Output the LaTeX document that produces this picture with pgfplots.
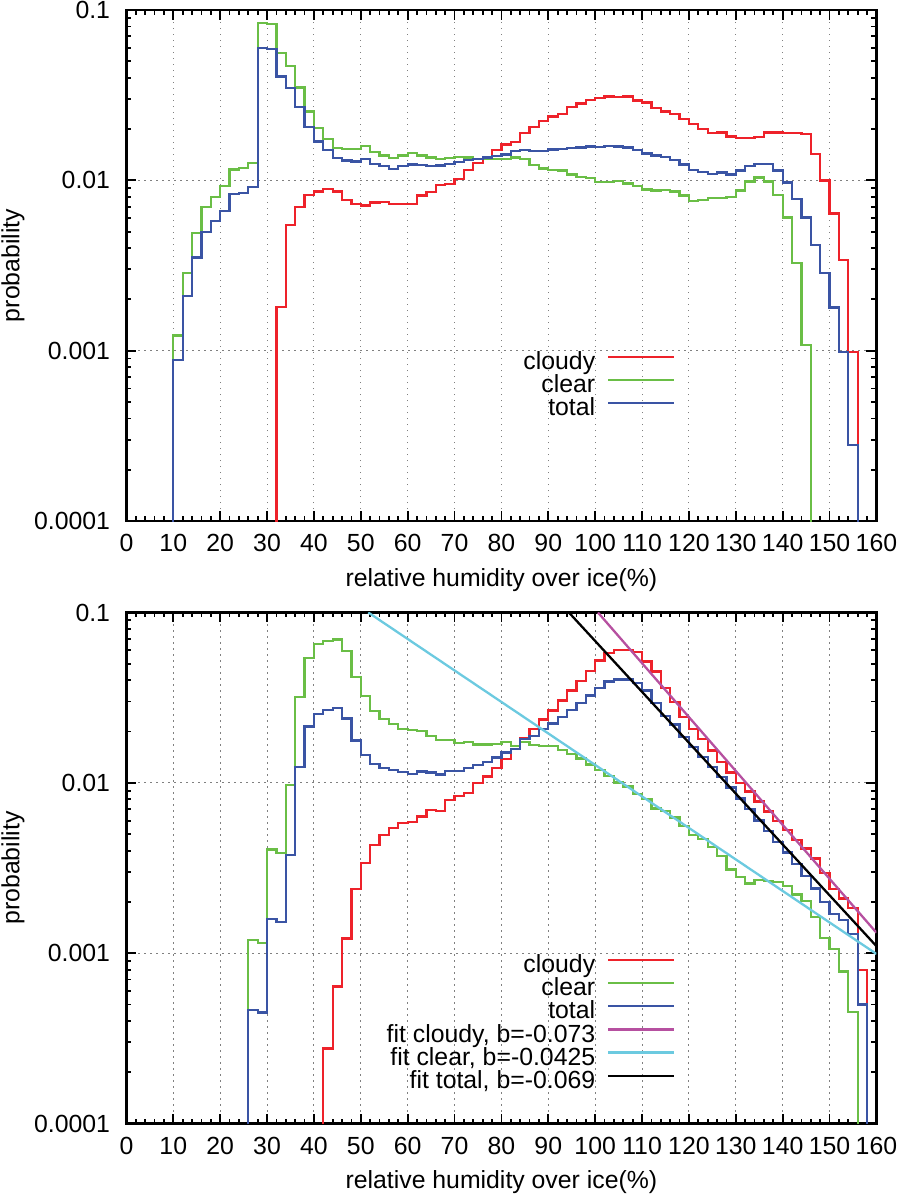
\documentclass[border=0pt]{standalone}
\usepackage{fontspec}
\setmainfont{Liberation Sans}
\usepackage{pgfplots}
\usepackage{pgfplotstable}
\pgfplotsset{compat=1.18}

\definecolor{cred}{RGB}{238,34,42}
\definecolor{cgreen}{RGB}{106,190,70}
\definecolor{cblue}{RGB}{58,84,164}
\definecolor{cmag}{RGB}{182,80,160}
\definecolor{ccyan}{RGB}{108,202,224}

% ---------------- top panel data ----------------
\pgfplotstableread{
x y
32 1e-5
32 0.0018
34 0.00545
36 0.00697
38 0.00817
40 0.00861
42 0.00889
44 0.00859
46 0.00764
48 0.00723
50 0.00713
52 0.0074
54 0.00746
56 0.00727
58 0.00723
60 0.00723
62 0.00815
64 0.00851
66 0.00935
68 0.00948
70 0.0102
72 0.01145
74 0.01264
76 0.01371
78 0.0150
80 0.0162
82 0.0168
84 0.0190
86 0.0206
88 0.0222
90 0.0237
92 0.0246
94 0.0269
96 0.0282
98 0.0297
100 0.0305
102 0.0311
104 0.0309
106 0.0311
108 0.0294
110 0.0286
112 0.0267
114 0.0254
116 0.0244
118 0.0229
120 0.0215
122 0.0201
124 0.0190
126 0.0191
128 0.0181
130 0.0177
132 0.0178
134 0.0180
136 0.0191
138 0.0191
140 0.0190
142 0.0189
144 0.0187
146 0.0143
148 0.00996
150 0.00638
152 0.0034
154 0.00098
156 1e-5
}\topred

\pgfplotstableread{
x y
10 1e-5
10 0.00123
12 0.00286
14 0.00493
16 0.00695
18 0.00798
20 0.00926
22 0.0116
24 0.0118
26 0.0127
28 0.0837
30 0.083
32 0.0561
34 0.0467
36 0.0351
38 0.0254
40 0.0203
42 0.0175
44 0.0155
46 0.0153
48 0.0153
50 0.0159
52 0.0146
54 0.0140
56 0.0135
58 0.0140
60 0.0145
62 0.0140
64 0.0136
66 0.0133
68 0.0135
70 0.0137
72 0.0136
74 0.0133
76 0.0133
78 0.0134
80 0.0133
82 0.0136
84 0.0133
86 0.01235
88 0.01175
90 0.01155
92 0.0114
94 0.0108
96 0.01045
98 0.0103
100 0.00977
102 0.0098
104 0.0099
106 0.00957
108 0.00923
110 0.00882
112 0.0087
114 0.0088
116 0.0086
118 0.00816
120 0.00757
122 0.0077
124 0.00784
126 0.00784
128 0.00798
130 0.00873
132 0.00986
134 0.01037
136 0.00986
138 0.00824
140 0.00604
142 0.00327
144 0.00108
146 1e-5
}\topgreen

\pgfplotstableread{
x y
10 1e-5
10 0.00088
12 0.0021
14 0.00353
16 0.00498
18 0.00575
20 0.00661
22 0.00835
24 0.0084
26 0.00914
28 0.0600
30 0.0591
32 0.0407
34 0.0348
36 0.0269
38 0.0206
40 0.0169
42 0.0150
44 0.0135
46 0.0131
48 0.0129
50 0.0134
52 0.0125
54 0.0121
56 0.0117
58 0.0121
60 0.0124
62 0.0123
64 0.0121
66 0.0122
68 0.0125
70 0.0128
72 0.0132
74 0.0133
76 0.0136
78 0.0139
80 0.0142
82 0.0149
84 0.0150
86 0.0149
88 0.0149
90 0.0152
92 0.0153
94 0.0155
96 0.0156
98 0.0158
100 0.0157
102 0.0159
104 0.0158
106 0.0156
108 0.0150
110 0.0144
112 0.0140
114 0.0137
116 0.0132
118 0.0124
120 0.01145
122 0.0112
124 0.0109
126 0.0111
128 0.0108
130 0.0114
132 0.0121
134 0.0125
136 0.0125
138 0.0114
140 0.00973
142 0.00774
144 0.00604
146 0.00416
148 0.00285
150 0.00179
152 0.00098
154 0.00028
156 1e-5
}\topblue

% ---------------- bottom panel data ----------------
\pgfplotstableread{
x y
42 1e-5
42 0.000276
44 0.000637
46 0.00122
48 0.00237
50 0.00337
52 0.00432
54 0.00492
56 0.00541
58 0.00579
60 0.0059
62 0.00634
64 0.00693
66 0.00685
68 0.00791
70 0.00838
72 0.00869
74 0.00996
76 0.0109
78 0.0122
80 0.0138
82 0.0158
84 0.0183
86 0.0207
88 0.0235
90 0.0266
92 0.0304
94 0.0348
96 0.0396
98 0.0453
100 0.0523
102 0.0581
104 0.0605
106 0.0603
108 0.0586
110 0.0515
112 0.0451
114 0.0360
116 0.0298
118 0.0243
120 0.0207
122 0.0181
124 0.0155
126 0.0132
128 0.0115
130 0.00995
132 0.0089
134 0.00777
136 0.00678
138 0.00597
140 0.00528
142 0.00461
144 0.00412
146 0.0036
148 0.00296
150 0.00239
152 0.00209
154 0.00185
156 0.0008
158 1e-5
}\botred

\pgfplotstableread{
x y
26 1e-5
26 0.0012
28 0.00115
30 0.00406
32 0.00389
34 0.00969
36 0.0319
38 0.0541
40 0.0651
42 0.0681
44 0.0693
46 0.0594
48 0.0418
50 0.0323
52 0.0264
54 0.0237
56 0.0221
58 0.0207
60 0.0204
62 0.0202
64 0.0188
66 0.0179
68 0.0179
70 0.0171
72 0.0173
74 0.0168
76 0.0168
78 0.0169
80 0.0173
82 0.0164
84 0.0173
86 0.0167
88 0.0165
90 0.0164
92 0.0156
94 0.0148
96 0.0139
98 0.0128
100 0.0119
102 0.0110
104 0.01004
106 0.0095
108 0.00857
110 0.0080
112 0.00706
114 0.00681
116 0.00625
118 0.00558
120 0.00492
122 0.00466
124 0.00421
126 0.00371
128 0.0031
130 0.00281
132 0.00256
134 0.00268
136 0.00265
138 0.00261
140 0.00247
142 0.00221
144 0.00202
146 0.00163
148 0.00123
150 0.00106
152 0.00078
154 0.00045
156 1e-5
}\botgreen

\pgfplotstableread{
x y
26 1e-5
26 0.000463
28 0.000448
30 0.00159
32 0.00152
34 0.00378
36 0.0124
38 0.0214
40 0.0254
42 0.0268
44 0.0275
46 0.0239
48 0.0177
50 0.0146
52 0.0129
54 0.0122
56 0.0119
58 0.0116
60 0.0113
62 0.01167
64 0.0115
66 0.0112
68 0.01178
70 0.0117
72 0.0122
74 0.0127
76 0.0132
78 0.0141
80 0.0151
82 0.0158
84 0.0181
86 0.0189
88 0.0207
90 0.0223
92 0.0243
94 0.0268
96 0.0295
98 0.0326
100 0.0360
102 0.0393
104 0.0404
106 0.0404
108 0.0385
110 0.0348
112 0.0295
114 0.0246
116 0.0220
118 0.0185
120 0.0162
122 0.0142
124 0.0124
126 0.0108
128 0.0094
130 0.0081
132 0.0070
134 0.0060
136 0.0052
138 0.0045
140 0.0039
142 0.00335
144 0.00285
146 0.0024
148 0.0020
150 0.0017
152 0.00157
154 0.0013
156 0.0005
158 1e-5
}\botblue

\pgfplotsset{
  every axis/.append style={
    scale only axis, width=375bp, height=255.5bp,
    xmin=0, xmax=160, ymin=1e-4, ymax=0.1,
    xtick={0,10,...,160}, minor x tick num=4,
    ytick={1e-4,1e-3,1e-2,1e-1}, yticklabels={0.0001,0.001,0.01,0.1},
    tick align=inside, tick pos=both,
    major tick length=5bp, minor tick length=2.5bp,
    tick style={black, line width=0.9bp},
    axis line style={line width=1.4bp},
    xmajorgrids, ymajorgrids,
    major grid style={gray, line width=0.5bp, dash pattern=on 0.7bp off 2.3bp},
    /pgf/number format/assume math mode=true,
    xticklabel style={anchor=base, yshift=-15.3bp, inner sep=0pt},
    yticklabel style={anchor=east, xshift=-8bp, inner sep=0pt},
    legend cell align=right, legend plot pos=right,
  },
}

\begin{document}
\fontsize{12.45}{14}\selectfont
\begin{tikzpicture}
\path[use as bounding box] (0,0) rectangle (449bp,597.5bp);

\begin{semilogyaxis}[at={(63.2bp,337bp)}, anchor=south west,
  xlabel={relative humidity over ice(\%)},
  ylabel={probability},
  x label style={at={(axis description cs:0.5,0)}, anchor=base, yshift=-32.5bp},
  y label style={at={(axis description cs:-0.1512,0.5)}, anchor=center},
  legend style={draw=none, fill=none, inner sep=0pt, outer sep=0pt,
      column sep=6bp, row sep=0pt,
      nodes={inner sep=0pt, text height=8.6bp, text depth=3bp},
      at={(axis description cs:0.7321,0.330)}, anchor=north east},
  legend image code/.code={\draw[#1] (0bp,3.6bp) -- (33bp,3.6bp); \path (0bp,0bp);}]
\addplot[const plot mark left, line width=1.15bp, no marks, cred] table[x=x,y=y] {\topred};
\addlegendentry{cloudy}
\addplot[const plot mark left, line width=1.15bp, no marks, cgreen] table[x=x,y=y] {\topgreen};
\addlegendentry{clear}
\addplot[const plot mark left, line width=1.15bp, no marks, cblue] table[x=x,y=y] {\topblue};
\addlegendentry{total}
\end{semilogyaxis}

\begin{semilogyaxis}[at={(63.2bp,35.75bp)}, anchor=south west,
  xlabel={relative humidity over ice(\%)},
  ylabel={probability},
  x label style={at={(axis description cs:0.5,0)}, anchor=base, yshift=-32.5bp},
  y label style={at={(axis description cs:-0.1512,0.5)}, anchor=center},
  legend style={draw=none, fill=none, inner sep=0pt, outer sep=0pt,
      column sep=6bp, row sep=0pt,
      nodes={inner sep=0pt, text height=8.6bp, text depth=3bp},
      at={(axis description cs:0.7321,0.329)}, anchor=north east},
  legend image code/.code={\draw[#1] (0bp,3.6bp) -- (33bp,3.6bp); \path (0bp,0bp);}]
\addplot[const plot mark left, line width=1.15bp, no marks, cred] table[x=x,y=y] {\botred};
\addlegendentry{cloudy}
\addplot[const plot mark left, line width=1.15bp, no marks, cgreen] table[x=x,y=y] {\botgreen};
\addlegendentry{clear}
\addplot[const plot mark left, line width=1.15bp, no marks, cblue] table[x=x,y=y] {\botblue};
\addlegendentry{total}
\addplot[cmag, line width=1.15bp, no marks] coordinates {(100.6,0.1) (160,0.00132)};
\addlegendentry{fit cloudy, b=-0.073}
\addplot[ccyan, line width=1.15bp, no marks] coordinates {(51.6,0.1) (160,0.00099)};
\addlegendentry{fit clear, b=-0.0425}
\addplot[black, line width=1.15bp, no marks] coordinates {(94.4,0.1) (160,0.00110)};
\addlegendentry{fit total, b=-0.069}
\end{semilogyaxis}
\end{tikzpicture}
\end{document}
